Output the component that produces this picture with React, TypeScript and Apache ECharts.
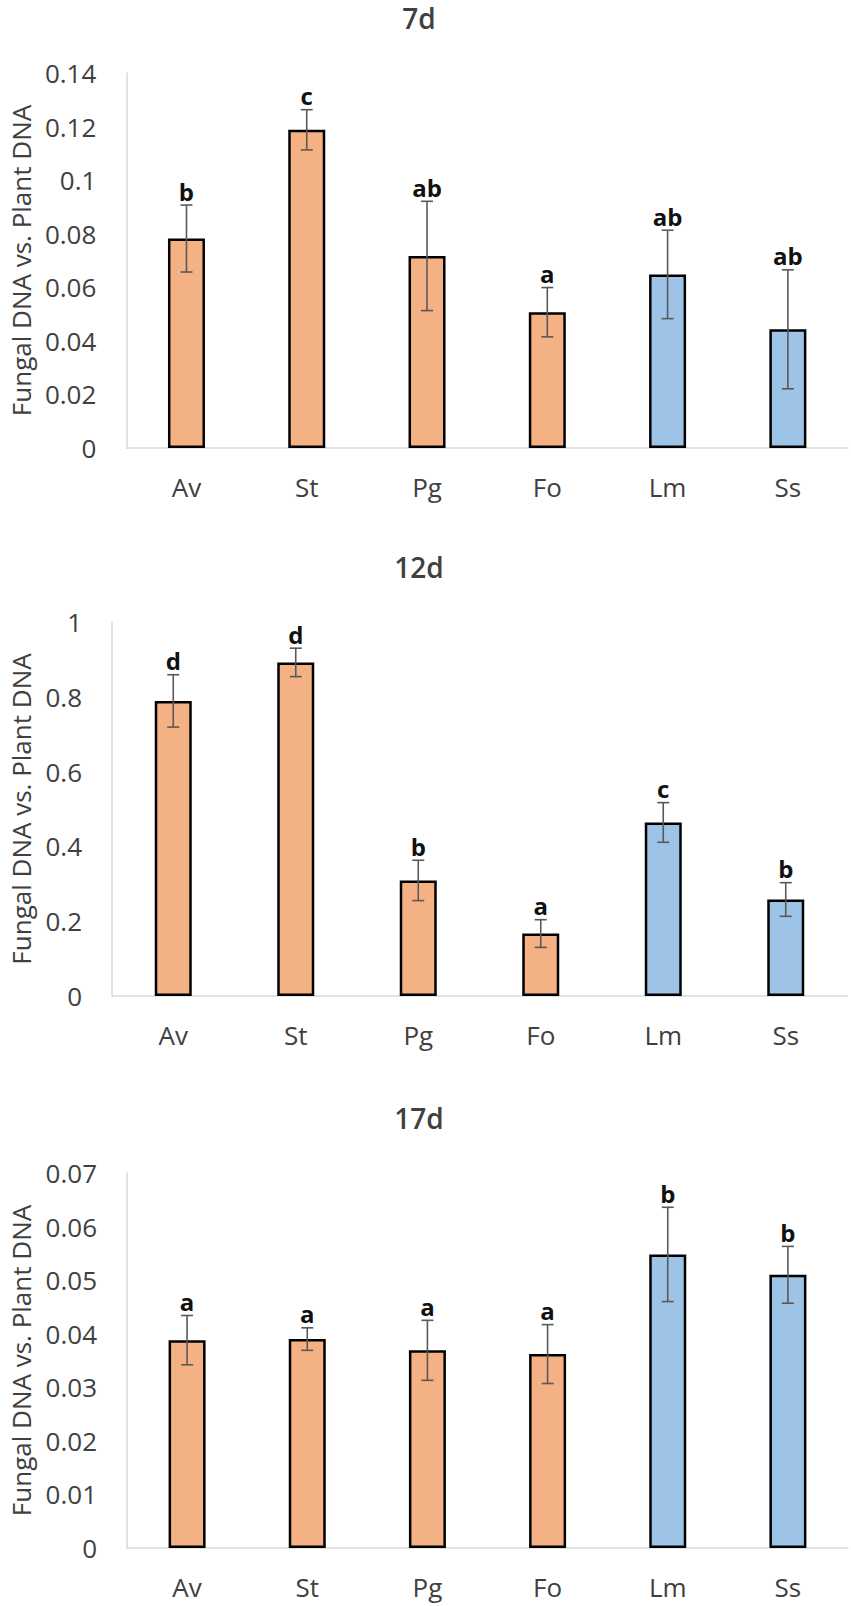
import React, { useEffect, useRef } from "react";
import * as echarts from "echarts";

const categories = ["Av", "St", "Pg", "Fo", "Lm", "Ss"];
const barColors = ["#F4B183", "#F4B183", "#F4B183", "#F4B183", "#9DC3E6", "#9DC3E6"];

const titles = ["7d", "12d", "17d"];

const mean7 = [0.0782, 0.1188, 0.0717, 0.0507, 0.0648, 0.0443];
const err7 = [0.0125, 0.0075, 0.0204, 0.0092, 0.0165, 0.0222];
const letters7 = ["b", "c", "ab", "a", "ab", "ab"];

const mean12 = [0.789, 0.892, 0.309, 0.167, 0.464, 0.258];
const err12 = [0.07, 0.038, 0.054, 0.037, 0.053, 0.045];
const letters12 = ["d", "d", "b", "a", "c", "b"];

const mean17 = [0.0388, 0.039, 0.0369, 0.0362, 0.0548, 0.051];
const err17 = [0.0046, 0.0021, 0.0056, 0.0055, 0.0088, 0.0053];
const letters17 = ["a", "a", "a", "a", "b", "b"];

const yMax = [0.14, 1, 0.07];
const yInterval = [0.02, 0.2, 0.01];

const panels = [
  { mean: mean7, err: err7, letters: letters7 },
  { mean: mean12, err: err12, letters: letters12 },
  { mean: mean17, err: err17, letters: letters17 },
];

const grids = [
  { left: 122, top: 73, width: 726, height: 375, nameGap: 92, titleY: 18 },
  { left: 107, top: 622, width: 740, height: 374, nameGap: 78, titleY: 567 },
  { left: 123, top: 1173, width: 725, height: 375, nameGap: 93, titleY: 1118 },
];

const FONT = "'Open Sans', 'Noto Sans', sans-serif";
const TEXT_COLOR = "#404040";

export default function App() {
  const ref = useRef<HTMLDivElement>(null);

  useEffect(() => {
    document.body.style.margin = "0";
    if (!ref.current) return;
    const chart = echarts.init(ref.current, undefined, { renderer: "svg" });

    const grid: any[] = [];
    const xAxis: any[] = [];
    const yAxis: any[] = [];
    const series: any[] = [];
    const graphic: any[] = [];

    panels.forEach((p, i) => {
      const g = grids[i];
      grid.push({ left: g.left, top: g.top, width: g.width, height: g.height });
      xAxis.push({
        type: "category",
        gridIndex: i,
        data: categories,
        axisLine: { show: true, lineStyle: { color: "#D9D9D9", width: 1.5 } },
        axisTick: { show: false },
        axisLabel: {
          color: TEXT_COLOR,
          fontSize: 26,
          fontFamily: FONT,
          margin: 26,
        },
      });
      yAxis.push({
        type: "value",
        gridIndex: i,
        min: 0,
        max: yMax[i],
        interval: yInterval[i],
        name: "Fungal DNA vs. Plant DNA",
        nameLocation: "middle",
        nameGap: g.nameGap,
        nameTextStyle: {
          color: TEXT_COLOR,
          fontSize: 26,
          fontFamily: FONT,
        },
        axisLine: { show: true, lineStyle: { color: "#D9D9D9", width: 1.5 } },
        axisTick: { show: false },
        splitLine: { show: false },
        axisLabel: {
          color: TEXT_COLOR,
          fontSize: 26,
          fontFamily: FONT,
          margin: 30,
        },
      });
      series.push({
        type: "bar",
        xAxisIndex: i,
        yAxisIndex: i,
        barWidth: 37,
        data: p.mean.map((v, k) => ({
          value: v,
          itemStyle: { color: barColors[k], borderColor: "#000", borderWidth: 2.5 },
        })),
        z: 2,
      });
      series.push({
        type: "custom",
        xAxisIndex: i,
        yAxisIndex: i,
        z: 3,
        data: p.mean.map((v, k) => [k, v - p.err[k], v + p.err[k]]),
        renderItem: (params: any, api: any) => {
          const idx = api.value(0);
          const lo = api.coord([idx, api.value(1)]);
          const hi = api.coord([idx, api.value(2)]);
          const x = hi[0];
          const cap = 6;
          const ls = { stroke: "#595959", lineWidth: 1.6 };
          return {
            type: "group",
            children: [
              { type: "line", shape: { x1: x, y1: hi[1], x2: x, y2: lo[1] }, style: ls },
              { type: "line", shape: { x1: x - cap, y1: hi[1], x2: x + cap, y2: hi[1] }, style: ls },
              { type: "line", shape: { x1: x - cap, y1: lo[1], x2: x + cap, y2: lo[1] }, style: ls },
              {
                type: "text",
                x: x,
                y: hi[1] - 2,
                style: {
                  text: p.letters[params.dataIndex],
                  textAlign: "center",
                  textVerticalAlign: "bottom",
                  fill: "#111",
                  fontSize: 24,
                  fontWeight: "bold",
                  fontFamily: FONT,
                },
              },
            ],
          };
        },
      });
      graphic.push({
        type: "text",
        x: 419,
        y: g.titleY,
        style: {
          text: titles[i],
          textAlign: "center",
          textVerticalAlign: "middle",
          fill: TEXT_COLOR,
          fontSize: 28,
          fontWeight: 600,
          fontFamily: FONT,
        },
      });
    });

    chart.setOption({
      animation: false,
      backgroundColor: "#fff",
      grid,
      xAxis,
      yAxis,
      series,
      graphic,
    });

    return () => {
      chart.dispose();
    };
  }, []);

  return <div ref={ref} style={{ width: 851, height: 1606 }} />;
}
